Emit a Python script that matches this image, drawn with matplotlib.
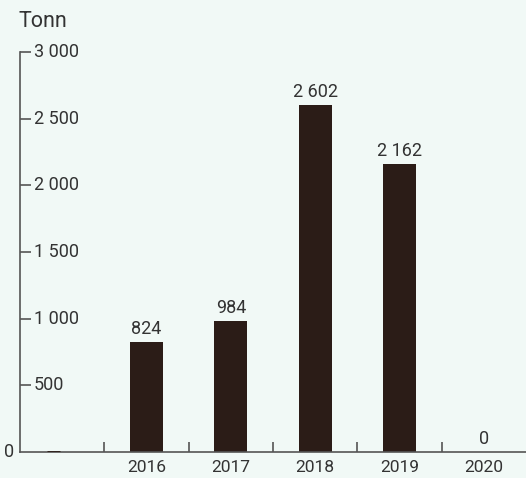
import matplotlib.pyplot as plt

# Data
years = ["", "2016", "2017", "2018", "2019", "2020"]
values = [0, 824, 984, 2602, 2162, 0]
yticks = [500, 1000, 1500, 2000, 2500, 3000]

bg = "#f1f9f6"
bar_color = "#2b1c17"
text_color = "#333333"
axis_color = "#555555"

def fmt(v):
    return f"{v:,}".replace(",", " ")

plt.rcParams["font.family"] = ["Roboto", "DejaVu Sans"]

fig = plt.figure(figsize=(5.26, 4.78), dpi=100, facecolor=bg)
ax = fig.add_axes([0.038, 0.0544, 0.962, 0.8368])
ax.set_facecolor(bg)

x = list(range(len(years)))
ax.bar(x[1:], values[1:], width=0.39, color=bar_color)
# short baseline mark for the empty first category
ax.plot([-0.18, -0.02], [0, 0], color=bar_color, lw=2, solid_capstyle="butt", zorder=3)

# value labels (not for the empty first category)
for xi, v in zip(x[1:], values[1:]):
    ax.text(xi, v + 30, fmt(v), ha="center", va="bottom", fontsize=13, color=text_color)

ax.set_xlim(-0.5, len(years) - 0.5)
ax.set_ylim(0, 3000)

for s in ["top", "right"]:
    ax.spines[s].set_visible(False)
for s in ["left", "bottom"]:
    ax.spines[s].set_color(axis_color)
    ax.spines[s].set_linewidth(1.2)

# x axis: labels at centers, tick marks between categories
ax.set_xticks(x)
ax.set_xticklabels(years, fontsize=12.5, color=text_color)
ax.tick_params(axis="x", which="major", length=0, pad=6)
ax.set_xticks([i + 0.5 for i in x[:-1]], minor=True)
ax.tick_params(axis="x", which="minor", direction="in", length=7, width=1.2, color=axis_color)

# y axis: ticks inside, labels to the right of the tick
ax.set_yticks(yticks)
ax.set_yticklabels([])
ax.tick_params(axis="y", direction="in", length=8, width=1.2, color=axis_color)
for t in yticks:
    ax.text(0.027, t, fmt(t), transform=ax.get_yaxis_transform(), ha="left", va="center",
            fontsize=13, color=text_color)
ax.text(-0.012, 0, "0", transform=ax.get_yaxis_transform(), ha="right", va="center",
        fontsize=13, color=text_color)

fig.text(0.036, 0.955, "Tonn", ha="left", va="center", fontsize=15.5, color=text_color)

fig.savefig("out.png", dpi=100, facecolor=bg)
